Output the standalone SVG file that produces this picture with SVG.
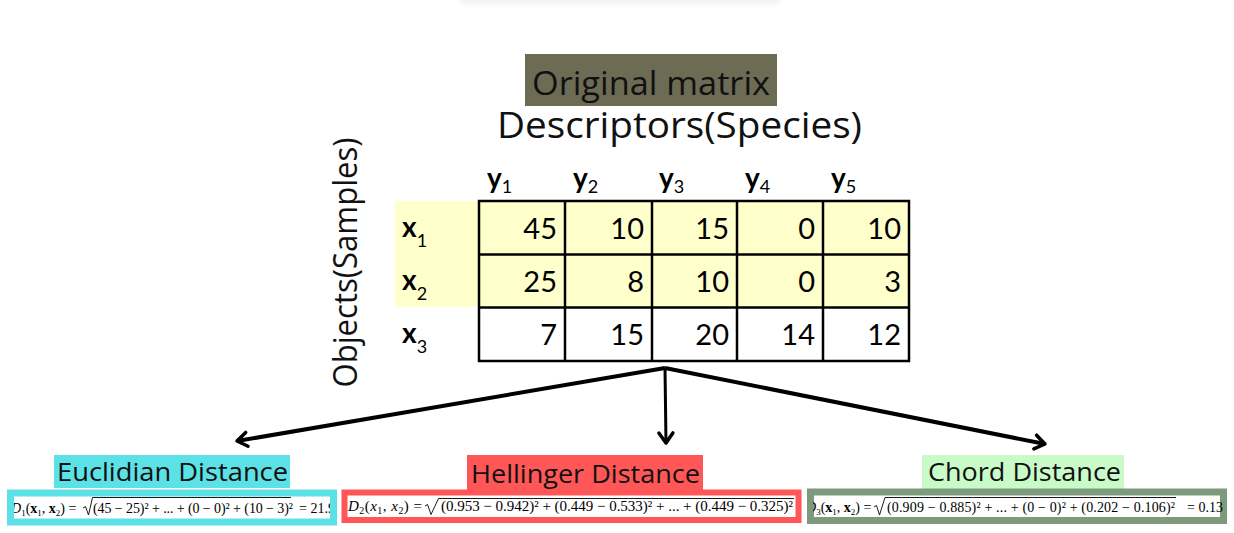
<svg xmlns="http://www.w3.org/2000/svg" width="1234" height="533" viewBox="0 0 1234 533">
  <style>
    .sans { font-family: "Open Sans", "Noto Sans", sans-serif; fill: #111; }
    .num { font-family: Lato, "Open Sans", sans-serif; font-size: 29px; fill: #000; text-anchor: end; }
    .hdr { font-family: Lato, "Open Sans", sans-serif; font-size: 28px; font-weight: bold; fill: #000; }
    .sub { font-size: 18px; font-weight: normal; }
    .grid { stroke: #000; stroke-width: 2.5; fill: none; }
    .fx { font-family: "Liberation Serif", "Times New Roman", serif; fill: #000; }
    .rad { fill: none; stroke: #000; stroke-width: 0.9; }
    .conn { stroke: #000; fill: none; }
  </style>
  <defs>
    <marker id="chev" viewBox="-14 -10 16 20" refX="0" refY="0" markerWidth="16" markerHeight="20" markerUnits="userSpaceOnUse" orient="auto" overflow="visible">
      <path d="M-10,-7 L0,0 L-10,7" fill="none" stroke="#000" stroke-width="3.5" stroke-linecap="round" stroke-linejoin="round"/>
    </marker>
    <filter id="blur" x="-20%" y="-200%" width="140%" height="500%">
      <feGaussianBlur stdDeviation="3"/>
    </filter>
    <clipPath id="c1"><rect x="14" y="496" width="316" height="23"/></clipPath>
    <clipPath id="c2"><rect x="347" y="495" width="448" height="22"/></clipPath>
    <clipPath id="c3"><rect x="813" y="495" width="410" height="22"/></clipPath>
  </defs>

  <rect width="1234" height="533" fill="#fff"/>
  <rect x="460" y="-8" width="320" height="12" fill="#000" opacity="0.05" filter="url(#blur)"/>

  <g id="title">
    <rect x="525" y="54" width="252" height="52" fill="#6c6b54"/>
    <text class="sans" x="651" y="95" font-size="32" text-anchor="middle" textLength="238" lengthAdjust="spacingAndGlyphs">Original matrix</text>
  </g>

  <g id="descriptors">
    <text class="sans" x="679.5" y="138" font-size="37" text-anchor="middle" textLength="365" lengthAdjust="spacingAndGlyphs">Descriptors(Species)</text>
  </g>

  <g id="objects">
    <text class="sans" transform="translate(357,262.5) rotate(-90)" font-size="32" text-anchor="middle" textLength="250" lengthAdjust="spacingAndGlyphs">Objects(Samples)</text>
  </g>

  <g id="matrix">
    <rect x="395" y="201" width="514" height="106" fill="#ffffcc"/>
    <rect x="479" y="201" width="430" height="160" class="grid"/>
    <line class="grid" x1="479" y1="254.5" x2="909" y2="254.5"/>
    <line class="grid" x1="479" y1="307.5" x2="909" y2="307.5"/>
    <line class="grid" x1="565" y1="201" x2="565" y2="361"/>
    <line class="grid" x1="652" y1="201" x2="652" y2="361"/>
    <line class="grid" x1="737" y1="201" x2="737" y2="361"/>
    <line class="grid" x1="823" y1="201" x2="823" y2="361"/>

    <text class="hdr" x="487" y="188">y<tspan class="sub" dy="5">1</tspan></text>
    <text class="hdr" x="573" y="188">y<tspan class="sub" dy="5">2</tspan></text>
    <text class="hdr" x="659" y="188">y<tspan class="sub" dy="5">3</tspan></text>
    <text class="hdr" x="745" y="188">y<tspan class="sub" dy="5">4</tspan></text>
    <text class="hdr" x="831" y="188">y<tspan class="sub" dy="5">5</tspan></text>

    <text class="hdr" x="402" y="237">x<tspan class="sub" dy="10">1</tspan></text>
    <text class="hdr" x="402" y="290">x<tspan class="sub" dy="10">2</tspan></text>
    <text class="hdr" x="402" y="343">x<tspan class="sub" dy="10">3</tspan></text>

    <text class="num" x="557" y="239">45</text>
    <text class="num" x="644" y="239">10</text>
    <text class="num" x="729" y="239">15</text>
    <text class="num" x="815" y="239">0</text>
    <text class="num" x="901" y="239">10</text>

    <text class="num" x="557" y="292">25</text>
    <text class="num" x="644" y="292">8</text>
    <text class="num" x="729" y="292">10</text>
    <text class="num" x="815" y="292">0</text>
    <text class="num" x="901" y="292">3</text>

    <text class="num" x="557" y="345">7</text>
    <text class="num" x="644" y="345">15</text>
    <text class="num" x="729" y="345">20</text>
    <text class="num" x="815" y="345">14</text>
    <text class="num" x="901" y="345">12</text>
  </g>

  <g id="connectors">
    <line class="conn" x1="665" y1="368" x2="237" y2="441" stroke-width="4" marker-end="url(#chev)"/>
    <line class="conn" x1="665" y1="368" x2="666" y2="443" stroke-width="3" marker-end="url(#chev)"/>
    <line class="conn" x1="665" y1="368" x2="1045" y2="444" stroke-width="4" marker-end="url(#chev)"/>
  </g>

  <g id="euclidian">
    <rect x="54" y="455" width="236" height="33" fill="#5ce1e6"/>
    <text class="sans" x="57" y="481" font-size="26" textLength="231" lengthAdjust="spacingAndGlyphs">Euclidian Distance</text>
    <rect x="10.5" y="493" width="323" height="29" fill="#fff" stroke="#5ce1e6" stroke-width="7"/>
    <g clip-path="url(#c1)">
      <text class="fx" x="11" y="513" font-size="14"><tspan font-style="italic">D</tspan><tspan font-size="9" dy="3">1</tspan><tspan dy="-3">(</tspan><tspan font-weight="bold">x</tspan><tspan font-size="9" dy="3">1</tspan><tspan dy="-3">, </tspan><tspan font-weight="bold">x</tspan><tspan font-size="9" dy="3">2</tspan><tspan dy="-3">) =</tspan></text>
      <path class="rad" d="M83,508 L85.5,506.5 L88.5,515 L92.5,497.5 L291,497.5"/>
      <text class="fx" x="93" y="513" font-size="14" textLength="200" lengthAdjust="spacing">(45 − 25)² + ... + (0 − 0)² + (10 − 3)²</text>
      <text class="fx" x="299" y="513" font-size="14">= 21.9</text>
    </g>
  </g>

  <g id="hellinger">
    <rect x="467" y="455" width="236" height="35" fill="#ff5757"/>
    <text class="sans" x="471" y="483" font-size="26" textLength="229" lengthAdjust="spacingAndGlyphs">Hellinger Distance</text>
    <rect x="344.5" y="492.5" width="454" height="27.5" fill="#fff" stroke="#ff5757" stroke-width="6"/>
    <g clip-path="url(#c2)">
      <text class="fx" x="348" y="511" font-size="15" textLength="74" lengthAdjust="spacing"><tspan font-style="italic">D</tspan><tspan font-size="10" dy="3">2</tspan><tspan dy="-3">(</tspan><tspan font-style="italic">x</tspan><tspan font-size="10" dy="3">1</tspan><tspan dy="-3">, </tspan><tspan font-style="italic">x</tspan><tspan font-size="10" dy="3">2</tspan><tspan dy="-3">) =</tspan></text>
      <path class="rad" d="M425,506 L427.5,504.5 L431,514.5 L438.5,498.5 L794,498.5"/>
      <text class="fx" x="441" y="511" font-size="15" textLength="352" lengthAdjust="spacing">(0.953 − 0.942)² + (0.449 − 0.533)² + ... + (0.449 − 0.325)²</text>
    </g>
  </g>

  <g id="chord">
    <rect x="922" y="455" width="202" height="35" fill="#c9fbc9"/>
    <text class="sans" x="928" y="481" font-size="26" textLength="193" lengthAdjust="spacingAndGlyphs">Chord Distance</text>
    <rect x="810.5" y="492" width="413" height="28.5" fill="#fff" stroke="#7e9a7c" stroke-width="7"/>
    <g clip-path="url(#c3)">
      <text class="fx" x="806" y="512" font-size="14"><tspan font-style="italic">D</tspan><tspan font-size="9" dy="3">3</tspan><tspan dy="-3">(</tspan><tspan font-weight="bold">x</tspan><tspan font-size="9" dy="3">1</tspan><tspan dy="-3">, </tspan><tspan font-weight="bold">x</tspan><tspan font-size="9" dy="3">2</tspan><tspan dy="-3">) =</tspan></text>
      <path class="rad" d="M874,507 L876.5,505.5 L879.5,515 L885,497.5 L1176,497.5"/>
      <text class="fx" x="887" y="512" font-size="14" textLength="288" lengthAdjust="spacing">(0.909 − 0.885)² + ... + (0 − 0)² + (0.202 − 0.106)²</text>
      <text class="fx" x="1187" y="512" font-size="14">= 0.138</text>
    </g>
  </g>
</svg>
